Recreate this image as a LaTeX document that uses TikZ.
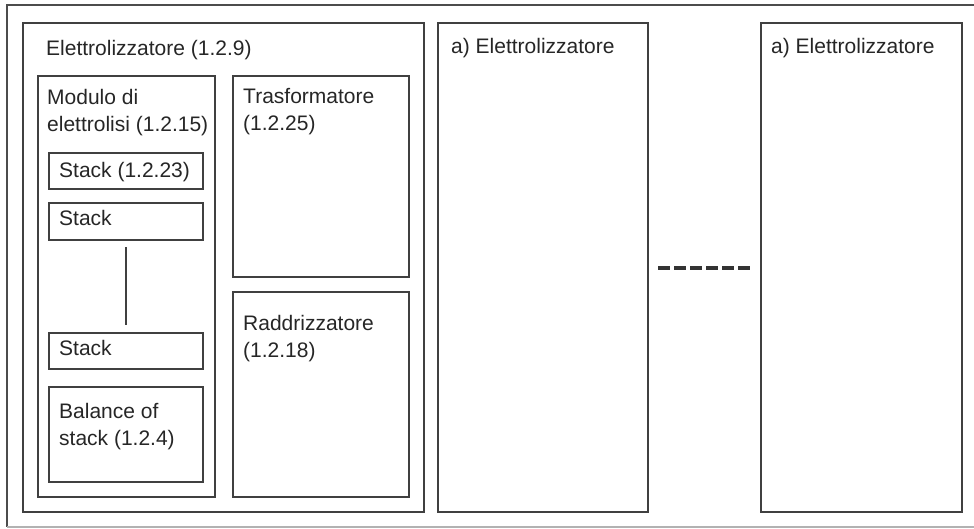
\documentclass[tikz,border=0pt]{standalone}
\usepackage{fontspec}
\setmainfont{Liberation Sans}
\usetikzlibrary{positioning}

\begin{document}
\begin{tikzpicture}[x=1pt,y=-1pt,
    box/.style={draw=black!75, line width=1.5pt, rectangle, inner sep=0pt, outer sep=0pt, anchor=north west},
    lbl/.style={anchor=base west, inner sep=0pt, align=left, text=black!85, font=\fontsize{21}{27}\selectfont}]
    \useasboundingbox (0,0) rectangle (974,528);
    \draw[black!70, line width=1.2pt] (990,5) -- (7,5) -- (7,527);
    \draw[black!30, line width=1.2pt] (7,527) -- (990,527);
    \node at (23,23) (elettro) [box, minimum width=401pt, minimum height=489pt] {};
    \node at (38,76) (modulo) [box, minimum width=177pt, minimum height=421pt] {};
    \node at (49,153) (stackA) [box, minimum width=154pt, minimum height=36pt] {};
    \node at (49,203) (stackB) [box, minimum width=154pt, minimum height=37pt] {};
    \node at (49,333) (stackN) [box, minimum width=154pt, minimum height=36pt] {};
    \node at (49,387) (balance) [box, minimum width=154pt, minimum height=95pt] {};
    \node at (233,76) (trasf) [box, minimum width=176pt, minimum height=201pt] {};
    \node at (233,292) (raddr) [box, minimum width=176pt, minimum height=205pt] {};
    \node at (438,23) (elettroB) [box, minimum width=210pt, minimum height=489pt] {};
    \node at (761,23) (elettroC) [box, minimum width=201pt, minimum height=489pt] {};
    \node at (46,55) (tElettro) [lbl] {Elettrolizzatore (1.2.9)};
    \node at (47,131) (tModulo) [lbl] {Modulo di\\elettrolisi (1.2.15)};
    \node at (59,177) (tStackA) [lbl] {Stack (1.2.23)};
    \node at (59,225) (tStackB) [lbl] {Stack};
    \node at (59,355) (tStackN) [lbl] {Stack};
    \node at (59,445) (tBalance) [lbl] {Balance of\\stack (1.2.4)};
    \node at (243,130) (tTrasf) [lbl] {Trasformatore\\(1.2.25)};
    \node at (243,357) (tRaddr) [lbl] {Raddrizzatore\\(1.2.18)};
    \node at (451,53) (tElettroB) [lbl] {a) Elettrolizzatore};
    \node at (771,53) (tElettroC) [lbl] {a) Elettrolizzatore};
    \draw[black!75, line width=1.2pt] ([yshift=-7pt]stackB.south) -- ([yshift=8pt]stackN.north);
    \coordinate (dotsA) at (658,268);
    \coordinate (dotsB) at (750,268);
    \draw[black!80, line width=3.5pt, dash pattern=on 12pt off 4pt] (dotsA) -- (dotsB);
\end{tikzpicture}
\end{document}
